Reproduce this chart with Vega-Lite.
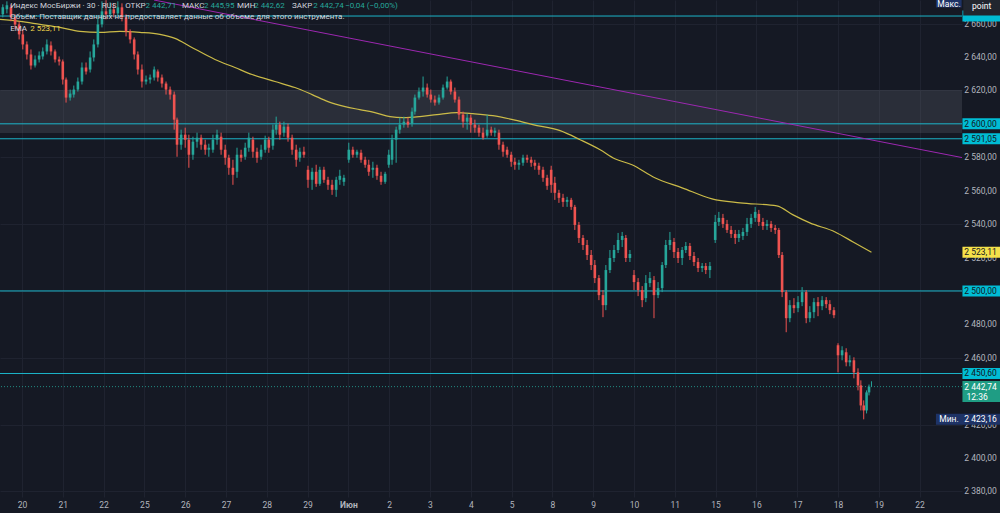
{
  "$schema": "https://vega.github.io/schema/vega-lite/v6.json",
  "width": 962,
  "height": 497,
  "autosize": {"type": "none"},
  "padding": {"left": 0, "top": 0, "right": 38, "bottom": 16},
  "background": "#151924",
  "resolve": {"scale": {"color": "independent"}},
  "config": {
    "locale": {"number": {"decimal": ",", "thousands": " ", "grouping": [3], "currency": ["", ""]}},
    "view": {"stroke": null},
    "axis": {"domain": false, "ticks": false, "labelColor": "#b2b5be", "labelFont": "Roboto", "labelFontSize": 8.5, "gridColor": "#1f2330", "gridWidth": 1, "labelOverlap": false, "labelFlush": false, "labelBound": false}
  },
  "datasets": {
    "candles": [
      {"t":-0.47,"o":2665.5,"h":2671.5,"l":2663.7,"c":2669.7},
      {"t":-0.37,"o":2668.5,"h":2673.3,"l":2666.1,"c":2670.9},
      {"t":-0.27,"o":2669.7,"h":2671.5,"l":2661.3,"c":2663.7},
      {"t":-0.17,"o":2663.7,"h":2665.5,"l":2656.5,"c":2659.5},
      {"t":-0.07,"o":2659.5,"h":2661.3,"l":2650.5,"c":2653.5},
      {"t":0.02,"o":2653.5,"h":2656.5,"l":2644.5,"c":2647.5},
      {"t":0.12,"o":2647.5,"h":2649.3,"l":2638.5,"c":2641.5},
      {"t":0.22,"o":2641.5,"h":2644.5,"l":2632.5,"c":2634.9},
      {"t":0.32,"o":2634.9,"h":2640.9,"l":2633.7,"c":2638.5},
      {"t":0.42,"o":2638.5,"h":2643.3,"l":2636.7,"c":2640.9},
      {"t":0.51,"o":2640.3,"h":2645.7,"l":2638.5,"c":2643.3},
      {"t":0.61,"o":2643.3,"h":2650.5,"l":2641.5,"c":2647.5},
      {"t":0.71,"o":2646.9,"h":2649.3,"l":2640.9,"c":2643.3},
      {"t":0.81,"o":2643.3,"h":2644.5,"l":2636.7,"c":2638.5},
      {"t":0.91,"o":2638.5,"h":2640.3,"l":2634.9,"c":2637.3},
      {"t":1.0,"o":2637.3,"h":2638.5,"l":2623.5,"c":2626.5},
      {"t":1.08,"o":2626.5,"h":2627.7,"l":2612.7,"c":2615.7},
      {"t":1.18,"o":2615.7,"h":2620.5,"l":2613.9,"c":2618.1},
      {"t":1.27,"o":2617.5,"h":2622.9,"l":2615.7,"c":2620.5},
      {"t":1.37,"o":2620.5,"h":2627.7,"l":2619.3,"c":2625.3},
      {"t":1.47,"o":2625.3,"h":2636.7,"l":2623.5,"c":2633.7},
      {"t":1.57,"o":2633.7,"h":2636.7,"l":2629.5,"c":2631.3},
      {"t":1.67,"o":2632.5,"h":2643.3,"l":2630.7,"c":2639.7},
      {"t":1.76,"o":2639.7,"h":2650.5,"l":2637.3,"c":2647.5},
      {"t":1.86,"o":2647.5,"h":2663.7,"l":2645.7,"c":2659.5},
      {"t":1.96,"o":2659.5,"h":2673.3,"l":2657.7,"c":2667.3},
      {"t":2.06,"o":2667.3,"h":2674.0,"l":2662.5,"c":2665.5},
      {"t":2.16,"o":2665.5,"h":2672.7,"l":2663.7,"c":2668.5},
      {"t":2.25,"o":2668.5,"h":2672.1,"l":2663.7,"c":2666.1},
      {"t":2.35,"o":2666.1,"h":2673.3,"l":2664.9,"c":2669.7},
      {"t":2.45,"o":2669.7,"h":2672.1,"l":2661.3,"c":2663.7},
      {"t":2.55,"o":2663.7,"h":2665.5,"l":2652.3,"c":2655.3},
      {"t":2.65,"o":2655.3,"h":2656.5,"l":2648.1,"c":2650.5},
      {"t":2.75,"o":2650.5,"h":2651.7,"l":2638.5,"c":2641.5},
      {"t":2.84,"o":2641.5,"h":2643.3,"l":2629.5,"c":2632.5},
      {"t":2.94,"o":2632.5,"h":2635.5,"l":2621.7,"c":2625.3},
      {"t":3.04,"o":2625.3,"h":2628.9,"l":2623.5,"c":2626.5},
      {"t":3.14,"o":2626.5,"h":2629.5,"l":2624.1,"c":2627.7},
      {"t":3.24,"o":2627.7,"h":2634.3,"l":2625.9,"c":2632.5},
      {"t":3.33,"o":2631.3,"h":2632.5,"l":2625.3,"c":2627.7},
      {"t":3.43,"o":2627.7,"h":2629.5,"l":2621.7,"c":2624.1},
      {"t":3.53,"o":2624.1,"h":2625.3,"l":2617.5,"c":2620.5},
      {"t":3.63,"o":2620.5,"h":2622.3,"l":2614.5,"c":2617.5},
      {"t":3.73,"o":2617.5,"h":2619.3,"l":2596.5,"c":2602.5},
      {"t":3.8,"o":2602.5,"h":2603.7,"l":2580.3,"c":2587.5},
      {"t":3.9,"o":2587.5,"h":2596.5,"l":2584.5,"c":2593.5},
      {"t":4.0,"o":2593.5,"h":2597.7,"l":2585.7,"c":2590.5},
      {"t":4.09,"o":2590.5,"h":2593.5,"l":2573.7,"c":2581.5},
      {"t":4.19,"o":2581.5,"h":2592.3,"l":2578.5,"c":2589.3},
      {"t":4.29,"o":2589.3,"h":2594.7,"l":2585.7,"c":2591.7},
      {"t":4.39,"o":2591.7,"h":2593.5,"l":2584.5,"c":2587.5},
      {"t":4.49,"o":2587.5,"h":2590.5,"l":2581.5,"c":2584.5},
      {"t":4.58,"o":2584.5,"h":2588.1,"l":2580.3,"c":2585.7},
      {"t":4.68,"o":2584.5,"h":2593.5,"l":2582.7,"c":2590.5},
      {"t":4.78,"o":2590.5,"h":2596.5,"l":2587.5,"c":2593.5},
      {"t":4.88,"o":2592.3,"h":2594.7,"l":2581.5,"c":2584.5},
      {"t":4.98,"o":2584.5,"h":2587.5,"l":2575.5,"c":2579.7},
      {"t":5.07,"o":2579.7,"h":2581.5,"l":2569.5,"c":2573.7},
      {"t":5.17,"o":2573.7,"h":2578.5,"l":2563.5,"c":2569.5},
      {"t":5.27,"o":2571.3,"h":2585.7,"l":2567.7,"c":2581.5},
      {"t":5.37,"o":2581.5,"h":2584.5,"l":2577.3,"c":2579.7},
      {"t":5.47,"o":2580.3,"h":2588.7,"l":2578.5,"c":2585.7},
      {"t":5.56,"o":2585.7,"h":2594.7,"l":2583.3,"c":2591.7},
      {"t":5.66,"o":2590.5,"h":2592.3,"l":2579.7,"c":2583.3},
      {"t":5.76,"o":2583.3,"h":2585.7,"l":2576.7,"c":2579.7},
      {"t":5.86,"o":2580.3,"h":2587.5,"l":2578.5,"c":2584.5},
      {"t":5.96,"o":2584.5,"h":2592.9,"l":2582.7,"c":2590.5},
      {"t":6.05,"o":2590.5,"h":2592.3,"l":2582.7,"c":2585.7},
      {"t":6.15,"o":2586.9,"h":2599.5,"l":2584.5,"c":2596.5},
      {"t":6.23,"o":2596.5,"h":2604.3,"l":2593.5,"c":2599.5},
      {"t":6.32,"o":2599.5,"h":2601.3,"l":2590.5,"c":2593.5},
      {"t":6.42,"o":2594.7,"h":2601.3,"l":2592.3,"c":2598.3},
      {"t":6.52,"o":2598.3,"h":2600.1,"l":2589.3,"c":2591.7},
      {"t":6.62,"o":2591.7,"h":2593.5,"l":2581.5,"c":2584.5},
      {"t":6.72,"o":2584.5,"h":2587.5,"l":2574.3,"c":2578.5},
      {"t":6.81,"o":2579.7,"h":2585.7,"l":2577.3,"c":2583.3},
      {"t":6.91,"o":2583.3,"h":2586.3,"l":2579.7,"c":2581.5},
      {"t":7.01,"o":2572.5,"h":2574.9,"l":2561.7,"c":2566.5},
      {"t":7.11,"o":2566.5,"h":2573.7,"l":2560.5,"c":2571.3},
      {"t":7.21,"o":2571.3,"h":2575.5,"l":2562.3,"c":2564.1},
      {"t":7.3,"o":2564.1,"h":2574.3,"l":2562.9,"c":2572.5},
      {"t":7.4,"o":2572.5,"h":2574.3,"l":2564.7,"c":2566.5},
      {"t":7.5,"o":2566.5,"h":2568.3,"l":2560.5,"c":2563.5},
      {"t":7.6,"o":2563.5,"h":2566.5,"l":2557.5,"c":2560.5},
      {"t":7.7,"o":2560.5,"h":2568.3,"l":2556.3,"c":2566.5},
      {"t":7.79,"o":2566.5,"h":2572.5,"l":2563.5,"c":2568.9},
      {"t":7.89,"o":2565.3,"h":2569.5,"l":2562.9,"c":2567.7},
      {"t":8.01,"o":2578.5,"h":2588.7,"l":2576.7,"c":2584.5},
      {"t":8.11,"o":2584.5,"h":2586.3,"l":2579.7,"c":2581.5},
      {"t":8.21,"o":2581.5,"h":2584.5,"l":2579.7,"c":2583.3},
      {"t":8.31,"o":2582.7,"h":2584.5,"l":2576.7,"c":2578.5},
      {"t":8.41,"o":2578.5,"h":2580.3,"l":2573.7,"c":2575.5},
      {"t":8.5,"o":2575.5,"h":2578.5,"l":2568.9,"c":2571.3},
      {"t":8.6,"o":2572.5,"h":2577.3,"l":2567.7,"c":2573.7},
      {"t":8.7,"o":2573.7,"h":2575.5,"l":2566.5,"c":2568.9},
      {"t":8.8,"o":2568.9,"h":2571.3,"l":2563.5,"c":2565.3},
      {"t":8.9,"o":2565.3,"h":2571.3,"l":2564.1,"c":2570.1},
      {"t":8.99,"o":2575.5,"h":2584.5,"l":2573.7,"c":2581.5},
      {"t":9.07,"o":2578.5,"h":2593.5,"l":2575.5,"c":2590.5},
      {"t":9.17,"o":2590.5,"h":2598.3,"l":2576.7,"c":2596.5},
      {"t":9.26,"o":2596.5,"h":2603.7,"l":2594.1,"c":2599.5},
      {"t":9.36,"o":2599.5,"h":2604.3,"l":2597.7,"c":2601.3},
      {"t":9.46,"o":2601.3,"h":2603.7,"l":2597.7,"c":2599.5},
      {"t":9.56,"o":2600.1,"h":2609.7,"l":2598.3,"c":2607.3},
      {"t":9.63,"o":2607.3,"h":2617.5,"l":2605.5,"c":2615.7},
      {"t":9.73,"o":2615.7,"h":2621.7,"l":2614.5,"c":2619.3},
      {"t":9.83,"o":2619.3,"h":2628.3,"l":2616.3,"c":2621.7},
      {"t":9.93,"o":2621.7,"h":2624.1,"l":2615.7,"c":2617.5},
      {"t":10.02,"o":2617.5,"h":2620.5,"l":2612.7,"c":2614.5},
      {"t":10.12,"o":2614.5,"h":2616.9,"l":2610.9,"c":2612.7},
      {"t":10.22,"o":2612.7,"h":2617.5,"l":2611.5,"c":2615.7},
      {"t":10.32,"o":2615.7,"h":2623.5,"l":2614.5,"c":2621.7},
      {"t":10.42,"o":2621.7,"h":2628.3,"l":2620.5,"c":2625.3},
      {"t":10.51,"o":2625.3,"h":2626.5,"l":2617.5,"c":2619.3},
      {"t":10.61,"o":2619.3,"h":2621.7,"l":2612.7,"c":2614.5},
      {"t":10.71,"o":2614.5,"h":2616.3,"l":2602.5,"c":2605.5},
      {"t":10.81,"o":2605.5,"h":2607.3,"l":2597.7,"c":2601.3},
      {"t":10.91,"o":2601.3,"h":2606.1,"l":2596.5,"c":2603.7},
      {"t":11.0,"o":2603.7,"h":2605.5,"l":2594.7,"c":2599.5},
      {"t":11.1,"o":2599.5,"h":2602.5,"l":2594.7,"c":2597.7},
      {"t":11.2,"o":2597.7,"h":2599.5,"l":2592.3,"c":2594.7},
      {"t":11.3,"o":2594.7,"h":2597.7,"l":2590.5,"c":2591.7},
      {"t":11.4,"o":2592.9,"h":2605.5,"l":2591.7,"c":2596.5},
      {"t":11.5,"o":2596.5,"h":2598.3,"l":2592.9,"c":2594.7},
      {"t":11.59,"o":2594.7,"h":2597.7,"l":2592.3,"c":2595.9},
      {"t":11.69,"o":2594.7,"h":2596.5,"l":2584.5,"c":2587.5},
      {"t":11.79,"o":2587.5,"h":2589.3,"l":2580.3,"c":2583.3},
      {"t":11.89,"o":2584.5,"h":2586.3,"l":2579.7,"c":2581.5},
      {"t":11.99,"o":2581.5,"h":2583.3,"l":2574.3,"c":2577.3},
      {"t":12.08,"o":2577.3,"h":2579.7,"l":2572.5,"c":2575.5},
      {"t":12.18,"o":2575.5,"h":2578.5,"l":2572.5,"c":2576.7},
      {"t":12.28,"o":2576.7,"h":2581.5,"l":2574.9,"c":2579.7},
      {"t":12.38,"o":2579.7,"h":2581.5,"l":2576.7,"c":2578.5},
      {"t":12.48,"o":2578.5,"h":2580.3,"l":2574.3,"c":2576.7},
      {"t":12.57,"o":2576.7,"h":2578.5,"l":2572.5,"c":2574.9},
      {"t":12.67,"o":2574.9,"h":2576.7,"l":2569.5,"c":2572.5},
      {"t":12.77,"o":2572.5,"h":2574.3,"l":2565.3,"c":2567.7},
      {"t":12.87,"o":2567.7,"h":2569.5,"l":2560.5,"c":2562.9},
      {"t":12.97,"o":2572.5,"h":2574.9,"l":2558.7,"c":2563.5},
      {"t":13.06,"o":2564.7,"h":2568.3,"l":2554.5,"c":2558.7},
      {"t":13.16,"o":2558.7,"h":2560.5,"l":2552.7,"c":2555.7},
      {"t":13.26,"o":2555.7,"h":2558.1,"l":2550.3,"c":2553.3},
      {"t":13.36,"o":2553.3,"h":2556.3,"l":2550.3,"c":2554.5},
      {"t":13.46,"o":2554.5,"h":2555.7,"l":2548.5,"c":2550.3},
      {"t":13.55,"o":2550.3,"h":2551.5,"l":2536.5,"c":2539.5},
      {"t":13.65,"o":2539.5,"h":2541.3,"l":2528.7,"c":2531.7},
      {"t":13.75,"o":2531.7,"h":2533.5,"l":2524.5,"c":2527.5},
      {"t":13.85,"o":2527.5,"h":2530.5,"l":2518.5,"c":2521.5},
      {"t":13.95,"o":2521.5,"h":2524.5,"l":2512.5,"c":2515.5},
      {"t":14.04,"o":2515.5,"h":2518.5,"l":2504.7,"c":2507.7},
      {"t":14.14,"o":2507.7,"h":2509.5,"l":2494.5,"c":2497.5},
      {"t":14.24,"o":2497.5,"h":2500.5,"l":2484.3,"c":2491.5},
      {"t":14.31,"o":2491.5,"h":2515.5,"l":2488.5,"c":2512.5},
      {"t":14.41,"o":2512.5,"h":2524.5,"l":2510.7,"c":2519.7},
      {"t":14.51,"o":2519.7,"h":2527.5,"l":2517.3,"c":2524.5},
      {"t":14.61,"o":2524.5,"h":2534.7,"l":2522.7,"c":2530.5},
      {"t":14.71,"o":2530.5,"h":2535.3,"l":2526.3,"c":2532.9},
      {"t":14.8,"o":2531.7,"h":2533.5,"l":2517.3,"c":2519.7},
      {"t":14.9,"o":2519.7,"h":2524.5,"l":2517.3,"c":2522.1},
      {"t":15.0,"o":2509.5,"h":2512.5,"l":2500.5,"c":2505.3},
      {"t":15.1,"o":2505.3,"h":2507.7,"l":2496.9,"c":2500.5},
      {"t":15.2,"o":2500.5,"h":2502.9,"l":2490.3,"c":2494.5},
      {"t":15.29,"o":2495.7,"h":2509.5,"l":2493.3,"c":2504.7},
      {"t":15.39,"o":2504.7,"h":2511.3,"l":2502.3,"c":2507.7},
      {"t":15.49,"o":2506.5,"h":2508.9,"l":2483.7,"c":2497.5},
      {"t":15.59,"o":2497.5,"h":2505.3,"l":2495.7,"c":2501.7},
      {"t":15.69,"o":2501.7,"h":2517.3,"l":2499.3,"c":2515.5},
      {"t":15.78,"o":2515.5,"h":2530.5,"l":2513.7,"c":2527.5},
      {"t":15.88,"o":2527.5,"h":2535.3,"l":2524.5,"c":2530.5},
      {"t":15.98,"o":2529.3,"h":2531.7,"l":2519.7,"c":2523.3},
      {"t":16.08,"o":2523.3,"h":2525.7,"l":2516.7,"c":2519.7},
      {"t":16.18,"o":2519.7,"h":2526.3,"l":2515.5,"c":2524.5},
      {"t":16.27,"o":2524.5,"h":2529.3,"l":2522.7,"c":2526.9},
      {"t":16.37,"o":2526.9,"h":2528.7,"l":2518.5,"c":2520.9},
      {"t":16.47,"o":2520.9,"h":2523.3,"l":2514.9,"c":2517.3},
      {"t":16.57,"o":2517.3,"h":2519.7,"l":2511.3,"c":2513.7},
      {"t":16.67,"o":2513.7,"h":2516.7,"l":2511.3,"c":2514.9},
      {"t":16.76,"o":2514.9,"h":2516.7,"l":2510.1,"c":2512.5},
      {"t":16.86,"o":2512.5,"h":2517.3,"l":2507.7,"c":2514.9},
      {"t":16.99,"o":2530.5,"h":2545.5,"l":2528.7,"c":2541.3},
      {"t":17.08,"o":2541.3,"h":2547.3,"l":2538.9,"c":2543.7},
      {"t":17.18,"o":2543.7,"h":2546.1,"l":2537.7,"c":2540.1},
      {"t":17.28,"o":2540.1,"h":2542.5,"l":2534.7,"c":2536.5},
      {"t":17.38,"o":2536.5,"h":2538.9,"l":2531.7,"c":2534.1},
      {"t":17.48,"o":2534.1,"h":2536.5,"l":2528.1,"c":2531.7},
      {"t":17.57,"o":2531.7,"h":2536.5,"l":2529.3,"c":2534.1},
      {"t":17.67,"o":2532.9,"h":2537.7,"l":2530.5,"c":2535.3},
      {"t":17.77,"o":2535.3,"h":2543.7,"l":2532.9,"c":2540.1},
      {"t":17.87,"o":2540.1,"h":2546.1,"l":2537.7,"c":2543.7},
      {"t":17.97,"o":2543.7,"h":2550.3,"l":2541.3,"c":2547.3},
      {"t":18.06,"o":2546.1,"h":2548.5,"l":2538.9,"c":2541.3},
      {"t":18.16,"o":2541.3,"h":2543.7,"l":2536.5,"c":2538.9},
      {"t":18.26,"o":2538.9,"h":2542.5,"l":2536.5,"c":2540.1},
      {"t":18.36,"o":2540.1,"h":2541.9,"l":2535.3,"c":2537.7},
      {"t":18.46,"o":2537.7,"h":2539.5,"l":2534.1,"c":2536.5},
      {"t":18.55,"o":2536.5,"h":2537.7,"l":2519.7,"c":2521.5},
      {"t":18.63,"o":2521.5,"h":2523.3,"l":2496.3,"c":2499.3},
      {"t":18.73,"o":2499.3,"h":2500.5,"l":2475.3,"c":2483.7},
      {"t":18.82,"o":2483.7,"h":2494.5,"l":2481.3,"c":2491.5},
      {"t":18.92,"o":2491.5,"h":2495.7,"l":2486.7,"c":2489.7},
      {"t":19.02,"o":2489.7,"h":2496.9,"l":2487.3,"c":2493.3},
      {"t":19.12,"o":2493.3,"h":2502.3,"l":2490.9,"c":2499.3},
      {"t":19.22,"o":2499.3,"h":2500.5,"l":2480.7,"c":2483.7},
      {"t":19.31,"o":2483.7,"h":2490.9,"l":2481.3,"c":2487.3},
      {"t":19.41,"o":2487.3,"h":2495.7,"l":2483.7,"c":2493.3},
      {"t":19.51,"o":2493.3,"h":2496.3,"l":2484.9,"c":2490.9},
      {"t":19.61,"o":2490.9,"h":2496.9,"l":2488.5,"c":2494.5},
      {"t":19.71,"o":2494.5,"h":2496.3,"l":2489.7,"c":2492.1},
      {"t":19.8,"o":2492.1,"h":2494.5,"l":2486.1,"c":2488.5},
      {"t":19.9,"o":2488.5,"h":2490.3,"l":2483.7,"c":2485.5},
      {"t":20.0,"o":2467.5,"h":2468.7,"l":2451.3,"c":2461.5},
      {"t":20.1,"o":2461.5,"h":2466.9,"l":2458.5,"c":2464.5},
      {"t":20.2,"o":2463.3,"h":2465.7,"l":2454.9,"c":2457.3},
      {"t":20.29,"o":2457.3,"h":2461.5,"l":2454.9,"c":2458.5},
      {"t":20.39,"o":2458.5,"h":2460.3,"l":2447.7,"c":2451.3},
      {"t":20.49,"o":2451.3,"h":2453.7,"l":2440.5,"c":2443.5},
      {"t":20.56,"o":2443.5,"h":2446.5,"l":2428.5,"c":2431.5},
      {"t":20.63,"o":2431.5,"h":2434.5,"l":2423.16,"c":2428.5},
      {"t":20.7,"o":2428.5,"h":2440.5,"l":2426.7,"c":2439.3},
      {"t":20.76,"o":2439.3,"h":2444.0,"l":2437.5,"c":2442.7},
      {"t":20.82,"o":2442.71,"h":2445.95,"l":2442.62,"c":2442.74}
    ],
    "ema": [
      {"t":-0.54,"p":2662.5},{"t":-0.05,"p":2661.3},{"t":0.44,"p":2659.5},{"t":0.93,"p":2657.7},
      {"t":1.42,"p":2655.3},{"t":1.91,"p":2654.7},{"t":2.4,"p":2655.3},{"t":2.89,"p":2654.7},
      {"t":3.38,"p":2653.5},{"t":3.75,"p":2651.1},{"t":4.12,"p":2646.3},{"t":4.73,"p":2638.5},
      {"t":5.22,"p":2633.7},{"t":5.64,"p":2629.5},{"t":6.2,"p":2625.3},{"t":6.69,"p":2621.7},
      {"t":7.11,"p":2617.5},{"t":7.5,"p":2613.3},{"t":7.92,"p":2610.3},{"t":8.28,"p":2608.5},
      {"t":8.65,"p":2606.7},{"t":9.02,"p":2604.3},{"t":9.34,"p":2603.7},{"t":9.75,"p":2604.3},
      {"t":10.17,"p":2605.5},{"t":10.66,"p":2606.7},{"t":11.05,"p":2606.1},{"t":11.54,"p":2604.9},
      {"t":12.03,"p":2602.5},{"t":12.52,"p":2599.5},{"t":13.19,"p":2595.9},{"t":13.68,"p":2590.5},
      {"t":14.17,"p":2584.5},{"t":14.53,"p":2579.1},{"t":14.95,"p":2575.5},{"t":15.51,"p":2567.7},
      {"t":16.18,"p":2561.7},{"t":16.91,"p":2555.1},{"t":17.6,"p":2552.7},{"t":18.5,"p":2550.9},
      {"t":18.9,"p":2545.5},{"t":19.31,"p":2540.7},{"t":19.93,"p":2535.3},{"t":20.37,"p":2529.3},
      {"t":20.82,"p":2523.11}
    ],
    "trend": [{"t":3.235,"p":2674.09},{"t":23.039,"p":2579.8}],
    "levels": [{"p":2664.5},{"p":2600},{"p":2591.05},{"p":2500},{"p":2450.6}],
    "zone": [{"t1":-0.539,"t2":23.039,"p1":2594.5,"p2":2620.2}],
    "last": [{"p":2442.74}],
    "ylabels": [
      {"p":2660,"s":"2 660,00"},{"p":2640,"s":"2 640,00"},{"p":2620,"s":"2 620,00"},
      {"p":2580,"s":"2 580,00"},{"p":2560,"s":"2 560,00"},{"p":2540,"s":"2 540,00"},
      {"p":2520,"s":"2 520,00"},{"p":2480,"s":"2 480,00"},{"p":2460,"s":"2 460,00"},
      {"p":2420,"s":"2 420,00"},{"p":2400,"s":"2 400,00"},{"p":2380,"s":"2 380,00"}
    ],
    "legend": [
      {"t":-0.29,"p":2670.5,"s":"Индекс МосБиржи · 30 · RUS","k":"txt"},
      {"t":2.53,"p":2670.5,"s":"ОТКР","k":"txt"},
      {"t":3.03,"p":2670.5,"s":"2 442,71","k":"up"},
      {"t":3.92,"p":2670.5,"s":"МАКС","k":"txt"},
      {"t":4.46,"p":2670.5,"s":"2 445,95","k":"up"},
      {"t":5.27,"p":2670.5,"s":"МИН","k":"txt"},
      {"t":5.69,"p":2670.5,"s":"2 442,62","k":"up"},
      {"t":6.62,"p":2670.5,"s":"ЗАКР","k":"txt"},
      {"t":7.14,"p":2670.5,"s":"2 442,74","k":"up"},
      {"t":7.92,"p":2670.5,"s":"−0,04 (−0,00%)","k":"up"},
      {"t":-0.29,"p":2663.9,"s":"Объём: Поставщик данных не предоставляет данные об объеме для этого инструмента.","k":"txt"},
      {"t":-0.29,"p":2656.7,"s":"EMA","k":"txt"},
      {"t":0.2,"p":2656.7,"s":"2 523,11","k":"ema"}
    ],
    "tags": [
      {"t1":23.05,"t2":24.0,"p":2664.5,"k":"level"},
      {"t1":23.05,"t2":24.0,"p":2600,"k":"level"},
      {"t1":23.05,"t2":24.0,"p":2591.05,"k":"level"},
      {"t1":23.05,"t2":24.0,"p":2523.11,"k":"ema"},
      {"t1":23.05,"t2":24.0,"p":2500,"k":"level"},
      {"t1":23.05,"t2":24.0,"p":2450.6,"k":"level"},
      {"t1":22.4,"t2":24.0,"p":2423.16,"k":"min"},
      {"t1":22.4,"t2":23.03,"p":2672.9,"k":"min"}
    ],
    "lasttag": [{"t1":23.05,"t2":24.0,"p":2439.8}],
    "pointtag": [{"t1":23.07,"t2":24.0,"p":2669.6}],
    "tagtext": [
      {"t":23.89,"p":2600,"s":"2 600,00","k":"dark"},
      {"t":23.89,"p":2591.05,"s":"2 591,05","k":"dark"},
      {"t":23.89,"p":2523.11,"s":"2 523,11","k":"dark"},
      {"t":23.89,"p":2500,"s":"2 500,00","k":"dark"},
      {"t":23.89,"p":2450.6,"s":"2 450,60","k":"dark"},
      {"t":23.89,"p":2442.74,"s":"2 442,74","k":"light"},
      {"t":23.89,"p":2423.16,"s":"2 423,16","k":"light"}
    ],
    "tagtextc": [
      {"t":22.72,"p":2423.16,"s":"Мин.","k":"light"},
      {"t":22.72,"p":2671.4,"s":"Макс.","k":"light"},
      {"t":23.52,"p":2670.3,"s":"point","k":"light"},
      {"t":23.41,"p":2436.4,"s":"12:36","k":"light"}
    ]
  },
  "layer": [
    {
      "data": {"name": "zone"},
      "mark": {"type": "rect", "color": "#787b86", "opacity": 0.22},
      "encoding": {
        "x": {"field": "t1", "type": "quantitative", "title": null, "scale": {"domain": [-0.539, 23.039], "nice": false, "zero": false, "padding": 0},
          "axis": {"orient": "bottom", "values": [0,1,2,3,4,5,6,7,8,9,10,11,12,13,14,15,16,17,18,19,20,21,22],
            "labelExpr": "['20','21','22','25','26','27','28','29','Июн','2','3','4','5','8','9','10','11','15','16','17','18','19','22'][datum.value]",
            "grid": true, "labelPadding": 3, "labelFlush": false, "labelOverlap": false, "title": null,
            "labelFontWeight": {"condition": {"test": "datum.value == 8", "value": "bold"}, "value": "normal"}}},
        "x2": {"field": "t2"},
        "y": {"field": "p1", "type": "quantitative", "title": null, "scale": {"domain": [2376.7, 2674.09], "nice": false, "zero": false, "padding": 0},
          "axis": {"orient": "right", "values": [2380,2400,2420,2440,2460,2480,2500,2520,2540,2560,2580,2600,2620,2640,2660],
            "labels": false, "grid": true, "title": null}},
        "y2": {"field": "p2"}
      }
    },
    {
      "data": {"name": "levels"},
      "mark": {"type": "rule", "stroke": "#1cb5c9", "strokeWidth": 1},
      "encoding": {
        "y": {"field": "p", "type": "quantitative", "title": null, "scale": {"domain": [2376.7, 2674.09], "nice": false, "zero": false, "padding": 0}}
      }
    },
    {
      "data": {"name": "trend"},
      "mark": {"type": "line", "stroke": "#9c27b0", "strokeWidth": 1},
      "encoding": {
        "x": {"field": "t", "type": "quantitative", "title": null, "scale": {"domain": [-0.539, 23.039], "nice": false, "zero": false, "padding": 0}},
        "y": {"field": "p", "type": "quantitative", "title": null, "scale": {"domain": [2376.7, 2674.09], "nice": false, "zero": false, "padding": 0}}
      }
    },
    {
      "data": {"name": "ema"},
      "mark": {"type": "line", "stroke": "#cbbb48", "strokeWidth": 1.2, "interpolate": "monotone"},
      "encoding": {
        "x": {"field": "t", "type": "quantitative", "title": null, "scale": {"domain": [-0.539, 23.039], "nice": false, "zero": false, "padding": 0}},
        "y": {"field": "p", "type": "quantitative", "title": null, "scale": {"domain": [2376.7, 2674.09], "nice": false, "zero": false, "padding": 0}}
      }
    },
    {
      "data": {"name": "last"},
      "mark": {"type": "rule", "stroke": "#26a69a", "strokeWidth": 1, "strokeDash": [1, 2], "opacity": 0.8},
      "encoding": {
        "y": {"field": "p", "type": "quantitative", "title": null, "scale": {"domain": [2376.7, 2674.09], "nice": false, "zero": false, "padding": 0}}
      }
    },
    {
      "data": {"name": "candles"},
      "mark": {"type": "rule", "strokeWidth": 1},
      "encoding": {
        "x": {"field": "t", "type": "quantitative", "title": null, "scale": {"domain": [-0.539, 23.039], "nice": false, "zero": false, "padding": 0}},
        "y": {"field": "l", "type": "quantitative", "title": null, "scale": {"domain": [2376.7, 2674.09], "nice": false, "zero": false, "padding": 0}},
        "y2": {"field": "h"},
        "color": {"condition": {"test": "datum.c >= datum.o", "value": "#26a69a"}, "value": "#ef5350"}
      }
    },
    {
      "data": {"name": "candles"},
      "mark": {"type": "bar", "size": 2.6},
      "encoding": {
        "x": {"field": "t", "type": "quantitative", "title": null, "scale": {"domain": [-0.539, 23.039], "nice": false, "zero": false, "padding": 0}},
        "y": {"field": "o", "type": "quantitative", "title": null, "scale": {"domain": [2376.7, 2674.09], "nice": false, "zero": false, "padding": 0}},
        "y2": {"field": "c"},
        "color": {"condition": {"test": "datum.c >= datum.o", "value": "#26a69a"}, "value": "#ef5350"}
      }
    },
    {
      "data": {"name": "legend"},
      "mark": {"type": "text", "align": "left", "baseline": "middle", "font": "Roboto", "fontSize": 8},
      "encoding": {
        "x": {"field": "t", "type": "quantitative", "title": null, "scale": {"domain": [-0.539, 23.039], "nice": false, "zero": false, "padding": 0}},
        "y": {"field": "p", "type": "quantitative", "title": null, "scale": {"domain": [2376.7, 2674.09], "nice": false, "zero": false, "padding": 0}},
        "text": {"field": "s"},
        "color": {"field": "k", "type": "nominal", "scale": {"domain": ["txt", "up", "ema"], "range": ["#d1d4dc", "#26a69a", "#f0d54a"]}, "legend": null}
      }
    },
    {
      "data": {"name": "ylabels"},
      "mark": {"type": "text", "align": "right", "baseline": "middle", "font": "Roboto", "fontSize": 8.5, "color": "#b2b5be"},
      "encoding": {
        "x": {"datum": 23.89, "type": "quantitative", "scale": {"domain": [-0.539, 23.039], "nice": false, "zero": false, "padding": 0}},
        "y": {"field": "p", "type": "quantitative", "title": null, "scale": {"domain": [2376.7, 2674.09], "nice": false, "zero": false, "padding": 0}},
        "text": {"field": "s"}
      }
    },
    {
      "data": {"name": "tags"},
      "mark": {"type": "rule", "strokeWidth": 11, "strokeCap": "butt"},
      "encoding": {
        "x": {"field": "t1", "type": "quantitative", "title": null, "scale": {"domain": [-0.539, 23.039], "nice": false, "zero": false, "padding": 0}},
        "x2": {"field": "t2"},
        "y": {"field": "p", "type": "quantitative", "title": null, "scale": {"domain": [2376.7, 2674.09], "nice": false, "zero": false, "padding": 0}},
        "color": {"field": "k", "type": "nominal", "scale": {"domain": ["level", "ema", "min"], "range": ["#00bcd4", "#f5e14a", "#1e3366"]}, "legend": null}
      }
    },
    {
      "data": {"name": "lasttag"},
      "mark": {"type": "rule", "strokeWidth": 21, "strokeCap": "butt", "stroke": "#1f9d84"},
      "encoding": {
        "x": {"field": "t1", "type": "quantitative", "title": null, "scale": {"domain": [-0.539, 23.039], "nice": false, "zero": false, "padding": 0}},
        "x2": {"field": "t2"},
        "y": {"field": "p", "type": "quantitative", "title": null, "scale": {"domain": [2376.7, 2674.09], "nice": false, "zero": false, "padding": 0}}
      }
    },
    {
      "data": {"name": "pointtag"},
      "mark": {"type": "rule", "strokeWidth": 16, "strokeCap": "butt", "stroke": "#22262f"},
      "encoding": {
        "x": {"field": "t1", "type": "quantitative", "title": null, "scale": {"domain": [-0.539, 23.039], "nice": false, "zero": false, "padding": 0}},
        "x2": {"field": "t2"},
        "y": {"field": "p", "type": "quantitative", "title": null, "scale": {"domain": [2376.7, 2674.09], "nice": false, "zero": false, "padding": 0}}
      }
    },
    {
      "data": {"name": "tagtext"},
      "mark": {"type": "text", "align": "right", "baseline": "middle", "font": "Roboto", "fontSize": 8.5},
      "encoding": {
        "x": {"field": "t", "type": "quantitative", "title": null, "scale": {"domain": [-0.539, 23.039], "nice": false, "zero": false, "padding": 0}},
        "y": {"field": "p", "type": "quantitative", "title": null, "scale": {"domain": [2376.7, 2674.09], "nice": false, "zero": false, "padding": 0}},
        "text": {"field": "s"},
        "color": {"field": "k", "type": "nominal", "scale": {"domain": ["dark", "light"], "range": ["#131722", "#ffffff"]}, "legend": null}
      }
    },
    {
      "data": {"name": "tagtextc"},
      "mark": {"type": "text", "align": "center", "baseline": "middle", "font": "Roboto", "fontSize": 8.5},
      "encoding": {
        "x": {"field": "t", "type": "quantitative", "title": null, "scale": {"domain": [-0.539, 23.039], "nice": false, "zero": false, "padding": 0}},
        "y": {"field": "p", "type": "quantitative", "title": null, "scale": {"domain": [2376.7, 2674.09], "nice": false, "zero": false, "padding": 0}},
        "text": {"field": "s"},
        "color": {"field": "k", "type": "nominal", "scale": {"domain": ["dark", "light"], "range": ["#131722", "#ffffff"]}, "legend": null}
      }
    }
  ]
}
